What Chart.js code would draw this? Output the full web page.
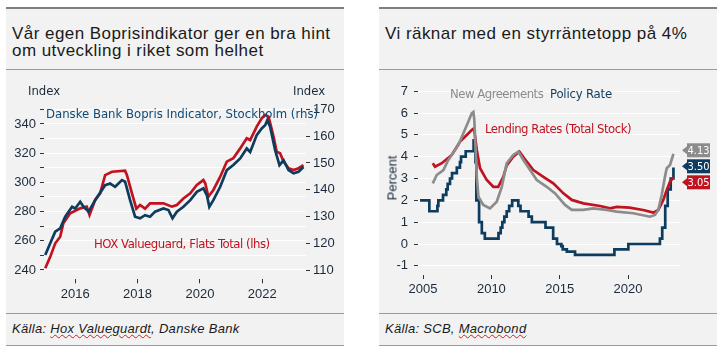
<!DOCTYPE html>
<html>
<head>
<meta charset="utf-8">
<script src="https://cdn.jsdelivr.net/npm/chart.js@4"></script>
<style>
body{margin:0;width:723px;height:352px;background:#fff;position:relative;overflow:hidden;font-family:"Liberation Sans",Arial,sans-serif;color:#1a1a1a}
.panel{position:absolute;top:7px;height:337px;width:338px;background:#f2f2f2;border-top:2px solid #7f7f7f}
.rule{position:absolute;height:1px;width:338px;background:#9a9a9a}
.title{position:absolute;top:25px;font-size:17px;line-height:17px;letter-spacing:0.45px;white-space:nowrap}
.src{position:absolute;top:321px;font-size:13px;line-height:15px;letter-spacing:0.3px;font-style:italic;white-space:nowrap}
.src u{text-decoration:underline wavy #d02020;text-decoration-thickness:1px}
.lbl{position:absolute;font-family:"Liberation Sans Narrow","DejaVu Sans Condensed",sans-serif;font-size:13px;line-height:13px;white-space:nowrap}
canvas{position:absolute;top:70px}
</style>
</head>
<body>
<div class="panel" style="left:6px"></div>
<div class="panel" style="left:379px"></div>
<div class="rule" style="left:6px;top:69px"></div>
<div class="rule" style="left:379px;top:69px"></div>
<div class="rule" style="left:6px;top:313px"></div>
<div class="rule" style="left:379px;top:313px"></div>
<div class="rule" style="left:6px;top:345px"></div>
<div class="rule" style="left:379px;top:345px"></div>

<div class="title" style="left:12px">Vår egen Boprisindikator ger en bra hint<br>om utveckling i riket som helhet</div>
<div class="title" style="left:385px">Vi räknar med en styrräntetopp på 4%</div>
<div class="src" style="left:12px">Källa: <u>Hox Valueguardt</u>, Danske Bank</div>
<div class="src" style="left:385px">Källa: SCB, <u>Macrobond</u></div>

<canvas id="left" width="338" height="242" style="left:6px"></canvas>
<canvas id="right" width="338" height="242" style="left:379px"></canvas>

<div class="lbl" style="left:28px;top:84px;color:#1a2a3a">Index</div>
<div class="lbl" style="left:293px;top:84px;color:#1a2a3a">Index</div>
<div class="lbl" style="left:46px;top:107px;color:#0d4a78">Danske Bank Bopris Indicator, Stockholm (rhs)</div>
<div class="lbl" style="left:94px;top:237px;color:#c1121f;letter-spacing:-0.45px">HOX Valueguard, Flats Total (lhs)</div>
<div class="lbl" style="left:450px;top:87px;color:#8c8c8c;letter-spacing:-0.5px">New Agreements</div>
<div class="lbl" style="left:550px;top:87px;color:#0d3c5e;letter-spacing:-0.2px">Policy Rate</div>
<div class="lbl" style="left:485px;top:122px;color:#c1121f;letter-spacing:-0.48px">Lending Rates (Total Stock)</div>
<div style="position:absolute;left:392px;top:178px;transform:translate(-50%,-50%) rotate(-90deg);font-size:13px;color:#1a2a3a">Percent</div>

<script>
// left chart: HOX Valueguard flats (lhs) and Danske Bank bopris indicator (rhs)
const hoxYears = [2015.04, 2015.2, 2015.36, 2015.52, 2015.62, 2015.84, 2016.16, 2016.37, 2016.46, 2016.64, 2016.8, 2016.96,
  2017.18, 2017.6, 2017.66, 2017.82, 2017.96, 2018.08, 2018.24, 2018.4, 2018.83, 2019.1, 2019.26, 2019.47, 2019.69,
  2019.9, 2020.11, 2020.17, 2020.27, 2020.43, 2020.65, 2020.86, 2021.07, 2021.29, 2021.5, 2021.61, 2021.82, 2021.98,
  2022.09, 2022.2, 2022.36, 2022.46, 2022.57, 2022.68, 2022.84, 2023.0, 2023.16, 2023.32];
const hoxIndex = [241.2, 249, 258.3, 262.8, 272, 278.8, 282.2, 283.4, 277.7, 288, 292.5, 305,
  307.3, 308, 305, 292.5, 282, 284.5, 282, 285.7, 285.7, 283.4, 284.5, 289, 292.5,
  298.2, 301.6, 299.4, 290.2, 294.8, 303.9, 314.2, 316.5, 323.3, 330.2, 329, 338.2, 343.9,
  346.2, 345, 331.3, 321, 320, 314.2, 309.7, 308.5, 309.7, 311.9];

const bopYears = [2015.04, 2015.2, 2015.36, 2015.52, 2015.68, 2015.9, 2016.0, 2016.16, 2016.27, 2016.43, 2016.64, 2016.96,
  2017.12, 2017.28, 2017.5, 2017.6, 2017.76, 2017.92, 2018.08, 2018.24, 2018.4, 2018.56, 2018.83, 2018.99, 2019.12,
  2019.26, 2019.47, 2019.69, 2019.9, 2020.11, 2020.22, 2020.3, 2020.43, 2020.65, 2020.86, 2021.07, 2021.29, 2021.5,
  2021.61, 2021.82, 2021.98, 2022.09, 2022.16, 2022.25, 2022.41, 2022.55, 2022.68, 2022.84, 2023.0, 2023.16, 2023.32];
const bopIndex = [115.6, 120, 124.3, 125.6, 129.9, 133.6, 133, 135.5, 133.6, 131.8, 136.1, 141.7,
  142.3, 141.1, 143.6, 143, 136.1, 129.9, 129.3, 130.5, 129.9, 131.8, 133, 132.4, 129.3,
  131.8, 133.6, 136.1, 139.2, 140.5, 138, 133.6, 136.1, 141.1, 147.3, 149.2, 151.7, 155.4,
  154.1, 160.4, 162.9, 164.1, 166, 163.5, 154.8, 149.2, 151, 147.3, 146.1, 146.7, 148.5];

const leftYearTicks = [2016, 2018, 2020, 2022];
const lhsTicks = [240, 250, 260, 270, 280, 290, 300, 310, 320, 330, 340, 350];
const rhsTicks = [110, 120, 130, 140, 150, 160, 170];

// right chart: rates in percent
const policyYears = [2004.78, 2005.46, 2006.05, 2006.12, 2006.46, 2006.7, 2006.8, 2006.97, 2007.12, 2007.47, 2007.7, 2007.78,
  2008.12, 2008.7, 2008.78, 2008.83, 2008.9, 2009.1, 2009.3, 2009.52, 2010.52, 2010.68, 2010.8, 2010.95, 2011.12,
  2011.3, 2011.52, 2011.97, 2012.13, 2012.72, 2012.96, 2013.96, 2014.52, 2014.8, 2015.12, 2015.22, 2015.52, 2016.12,
  2019.0, 2020.02, 2022.33, 2022.5, 2022.72, 2022.9, 2023.12, 2023.32];
const policyRate = [2.0, 1.5, 1.75, 2.0, 2.25, 2.5, 2.75, 3.0, 3.25, 3.5, 3.75, 4.0,
  4.25, 4.75, 4.25, 3.75, 2.0, 1.0, 0.5, 0.25, 0.5, 0.75, 1.0, 1.25, 1.5,
  1.75, 2.0, 1.75, 1.5, 1.25, 1.0, 0.75, 0.25, 0.0, -0.1, -0.25, -0.35, -0.5,
  -0.25, 0.0, 0.25, 0.75, 1.75, 2.5, 3.0, 3.5];

const newAgrYears = [2005.71, 2006.0, 2006.49, 2006.8, 2007.1, 2007.58, 2007.95, 2008.31, 2008.56, 2008.68, 2008.75, 2008.93,
  2009.05, 2009.41, 2009.9, 2010.39, 2010.76, 2011.12, 2011.6, 2011.97, 2012.34, 2012.83, 2013.32, 2014.05, 2014.66,
  2015.39, 2015.88, 2016.7, 2017.46, 2018.44, 2019.17, 2020.38, 2021.6, 2021.97, 2022.21, 2022.46, 2022.7, 2022.83,
  2023.07, 2023.32];
const newAgrRate = [2.78, 3.16, 3.39, 3.8, 4.08, 4.53, 5.07, 5.6, 5.99, 6.05, 5.7, 3.08,
  2.17, 1.79, 1.63, 1.94, 2.62, 3.7, 4.08, 4.23, 3.85, 3.39, 2.93, 2.62, 2.32,
  1.79, 1.56, 1.56, 1.63, 1.56, 1.48, 1.41, 1.25, 1.33, 1.56, 2.24, 3.08, 3.47,
  3.62, 4.13];

const lendYears = [2005.71, 2005.88, 2006.37, 2007.1, 2007.71, 2008.2, 2008.56, 2008.73, 2008.93, 2009.17, 2009.66, 2010.14,
  2010.5, 2010.87, 2011.12, 2011.6, 2012.05, 2012.59, 2013.07, 2013.8, 2014.53, 2015.27, 2015.88, 2016.73, 2017.95,
  2018.68, 2019.17, 2020.1, 2021.1, 2021.85, 2022.21, 2022.58, 2022.83, 2023.07, 2023.32];
const lendRate = [3.7, 3.54, 3.7, 4.08, 4.69, 4.99, 5.22, 5.3, 4.31, 3.47, 2.93, 2.62,
  2.62, 3.08, 3.6, 4.0, 4.23, 3.77, 3.39, 3.08, 2.78, 2.32, 2.02, 1.86, 1.74,
  1.63, 1.7, 1.67, 1.56, 1.44, 1.56, 2.02, 2.47, 2.85, 3.05];

const rightYearTicks = [2005, 2010, 2015, 2020];
const pctTicks = [-1, 0, 1, 2, 3, 4, 5, 6, 7];

const RED = '#c1121f', BLUE = '#0d3c5e', GREY = '#8c8c8c';

Chart.defaults.font.family = '"Liberation Sans", Arial, sans-serif';
Chart.defaults.font.size = 13;
Chart.defaults.color = '#1a2a3a';

function pts(xs, ys) { return xs.map((x, i) => ({x: x, y: ys[i]})); }
function setTicks(list) { return s => { s.ticks = list.map(v => ({value: v})); }; }

function line(xs, ys, color, extra) {
  return Object.assign({data: pts(xs, ys), borderColor: color, borderWidth: 2.7, pointRadius: 0, fill: false}, extra || {});
}

const tickGrid = {drawOnChartArea: false, tickLength: 4, tickColor: '#333'};

new Chart(document.getElementById('left'), {
  type: 'line',
  data: {datasets: [
    line(bopYears, bopIndex, BLUE, {yAxisID: 'y1'}),
    line(hoxYears, hoxIndex, RED, {yAxisID: 'y'})
  ]},
  options: {
    responsive: false, animation: false,
    layout: {padding: {top: 39.4}},
    plugins: {legend: {display: false}, tooltip: {enabled: false}},
    scales: {
      x: {type: 'linear', min: 2015.0, max: 2023.4, afterBuildTicks: setTicks(leftYearTicks),
          afterFit: s => { s.height = 32.7; }, grid: tickGrid, border: {display: false},
          ticks: {callback: v => String(v), padding: 3, maxRotation: 0, autoSkip: false}},
      y: {position: 'left', min: 233.63, max: 350, afterBuildTicks: setTicks(lhsTicks),
          afterFit: s => { s.width = 38; }, border: {display: false},
          grid: {color: '#ffffff', lineWidth: 1, tickLength: 4, tickColor: '#333'},
          ticks: {callback: v => (v % 20 === 0 ? v : ''), padding: 4, autoSkip: false}},
      y1: {position: 'right', min: 106.53, max: 170, afterBuildTicks: setTicks(rhsTicks),
           afterFit: s => { s.width = 38; }, border: {display: false}, grid: tickGrid,
           ticks: {padding: 3, autoSkip: false}}
    }
  }
});

// coloured value boxes at the right end of the rate chart
const endLabels = {
  id: 'endLabels',
  afterDatasetsDraw(chart) {
    const ctx = chart.ctx, a = chart.chartArea, y = chart.scales.y;
    const items = chart.data.datasets.map(d => {
      const last = d.data[d.data.length - 1];
      return {v: last.y, color: d.borderColor, py: y.getPixelForValue(last.y)};
    }).sort((p, q) => p.py - q.py);
    const mean = items.reduce((s, it) => s + it.py, 0) / items.length;
    ctx.save();
    items.forEach((it, i) => {
      const cy = mean + (i - (items.length - 1) / 2) * 16;
      const x0 = a.right + 7, w = 23, h = 14;
      ctx.fillStyle = it.color;
      ctx.fillRect(x0, cy - h / 2, w, h);
      ctx.beginPath();
      ctx.moveTo(x0, cy - 4); ctx.lineTo(x0 - 5, cy); ctx.lineTo(x0, cy + 4);
      ctx.closePath(); ctx.fill();
      ctx.fillStyle = '#fff';
      ctx.font = '11px "Liberation Sans Narrow", "DejaVu Sans Condensed", sans-serif';
      ctx.textAlign = 'center'; ctx.textBaseline = 'middle';
      ctx.fillText(it.v.toFixed(2), x0 + w / 2, cy + 0.5);
    });
    ctx.restore();
  }
};

new Chart(document.getElementById('right'), {
  type: 'line',
  data: {datasets: [
    line(newAgrYears, newAgrRate, GREY),
    line(lendYears, lendRate, RED),
    line(policyYears, policyRate, BLUE, {stepped: true})
  ]},
  options: {
    responsive: false, animation: false,
    layout: {padding: {top: 21.2, right: 37}},
    plugins: {legend: {display: false}, tooltip: {enabled: false}},
    scales: {
      x: {type: 'linear', min: 2004.63, max: 2023.8, afterBuildTicks: setTicks(rightYearTicks),
          afterFit: s => { s.height = 37; }, grid: tickGrid, border: {display: false},
          ticks: {callback: v => String(v), padding: 3, maxRotation: 0, autoSkip: false}},
      y: {min: -1.42, max: 7, afterBuildTicks: setTicks(pctTicks),
          afterFit: s => { s.width = 39; }, border: {display: false},
          grid: {color: '#ffffff', lineWidth: 1, tickLength: 4, tickColor: '#333'},
          ticks: {padding: 6, autoSkip: false}}
    }
  },
  plugins: [endLabels]
});
</script>
</body>
</html>
